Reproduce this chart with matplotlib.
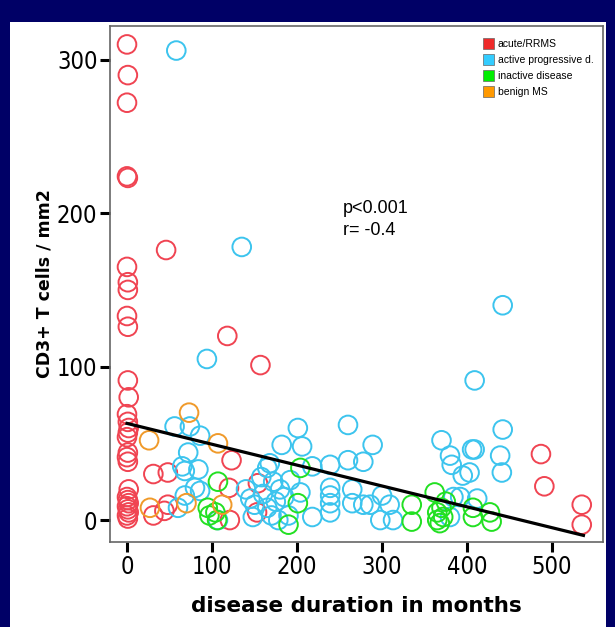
import numpy as np
import matplotlib
matplotlib.use("Agg")
import matplotlib.pyplot as plt
from matplotlib.patches import Patch, Rectangle

# values (months, CD3+ T cells / mm2)
acute_x = [0, 1, 0, 0, 1, 0, 1, 1, 0, 1, 1, 2, 0, 1, 2, 1, 0, 1, 0, 1, 2, 0, 1, 2, 0, 1, 2, 0, 1,
           46, 118, 157, 123, 31, 48, 120, 48, 44, 31, 121, 154, 153, 487, 491, 535, 535]
acute_y = [310, 290, 272, 224, 223, 165, 155, 150, 133, 126, 91, 80, 69, 64, 60, 57, 54, 44, 41, 38,
           20, 15, 13, 11, 9, 7, 5, 3, 1,
           176, 120, 101, 39, 30, 31, 21, 10, 6, 3, 0, 24, 5, 43, 22, 10, -3]

active_x = [58, 135, 94, 442, 409,
            56, 74, 86, 72, 65, 68, 84, 80, 86, 68, 60, 107,
            260, 201, 182, 206, 218, 239, 260, 165, 168, 192, 204, 190, 218, 239, 239, 239, 239, 265,
            289, 278, 265, 300, 278, 286, 298, 313, 309,
            140, 145, 150, 160, 165, 170, 175, 180, 172, 158, 178, 185, 148,
            370, 380, 406, 382, 395, 384, 392, 380, 442, 409, 439, 441, 403, 412]
active_y = [306, 178, 105, 140, 91,
            61, 61, 55, 44, 35, 32, 33, 21, 19, 16, 8, 0,
            62, 60, 49, 48, 35, 36, 39, 34, 37, 26, 18, 3, 2, 21, 16, 11, 5, 11,
            49, 38, 20, 16, 10, 10, 0, 0, 10,
            20, 14, 10, 17, 8, 3, 12, 20, 25, 28, 0, 15, 2,
            52, 42, 46, 36, 29, 15, 15, 2, 59, 46, 42, 31, 31, 14]

inactive_x = [107, 95, 97, 106, 104, 204, 201, 190, 335, 335, 362, 365, 365, 370, 372, 375, 368,
              407, 407, 427, 429]
inactive_y = [25, 8, 3, 0, 5, 34, 11, -3, 10, -1, 18, 5, 0, 8, 2, 12, -2, 8, 2, 5, -1]

benign_x = [73, 26, 107, 70, 27, 112]
benign_y = [70, 52, 50, 11, 8, 10]

# regression line end points
fit_x = [0, 537]
fit_y = [63, -10]

groups = ["acute/RRMS", "active progressive d.", "inactive disease", "benign MS"]
marker_colors = ["#f04452", "#3cc4ee", "#22e022", "#f09a2a"]
legend_colors = ["#ee2a2a", "#33ccff", "#00ee00", "#ff9900"]

fig = plt.figure(figsize=(6.15, 6.27), dpi=100, facecolor="#000066")
# white panel behind the plot
bg = fig.add_axes([10 / 615, 0, 596 / 615, 605 / 627], zorder=-5)
bg.set_axis_off()
bg.add_patch(Rectangle((0, 0), 1, 1, transform=bg.transAxes, facecolor="white", edgecolor="none"))

ax = fig.add_axes([110 / 615, 85 / 627, 493 / 615, 516 / 627])

series = [(acute_x, acute_y), (active_x, active_y), (inactive_x, inactive_y), (benign_x, benign_y)]
for (xs, ys), c in zip(series, marker_colors):
    ax.scatter(xs, ys, s=180, facecolors="none", edgecolors=c, linewidths=1.4, zorder=3)

ax.plot(fit_x, fit_y, color="black", lw=2.3, zorder=4)

ax.text(254, 200, "p<0.001", fontsize=13, family="Liberation Sans")
ax.text(254, 186, "r= -0.4", fontsize=13, family="Liberation Sans")

handles = [Patch(facecolor=c, edgecolor="#666666", lw=0.5, label=g) for g, c in zip(groups, legend_colors)]
ax.legend(handles=handles, loc="upper right", bbox_to_anchor=(1.0, 0.995), frameon=False,
          handlelength=1.0, handleheight=1.3, handletextpad=0.4, labelspacing=0.45,
          prop={"family": "Liberation Sans", "size": 7.5})

ax.set_xlim(-20, 560)
ax.set_ylim(-14.3, 322)
ax.set_xticks([0, 100, 200, 300, 400, 500])
ax.set_yticks([0, 100, 200, 300])
for s in ax.spines.values():
    s.set_color("#666666")
    s.set_linewidth(1.2)
ax.tick_params(direction="out", length=7, width=2.2, color="black", pad=2, labelsize=19)
for lab in ax.get_xticklabels() + ax.get_yticklabels():
    lab.set_family("DejaVu Sans")
    lab.set_stretch("condensed")
    lab.set_fontsize(17)

ax.set_xlabel("disease duration in months", fontsize=15.5, fontweight="bold")
ax.set_ylabel("CD3+ T cells / mm2", fontsize=12.5, fontweight="bold")
ax.xaxis.set_label_coords(0.5, -0.105)
ax.yaxis.set_label_coords(-0.115, 0.5)

fig.savefig("out.png", dpi=100, facecolor=fig.get_facecolor())
